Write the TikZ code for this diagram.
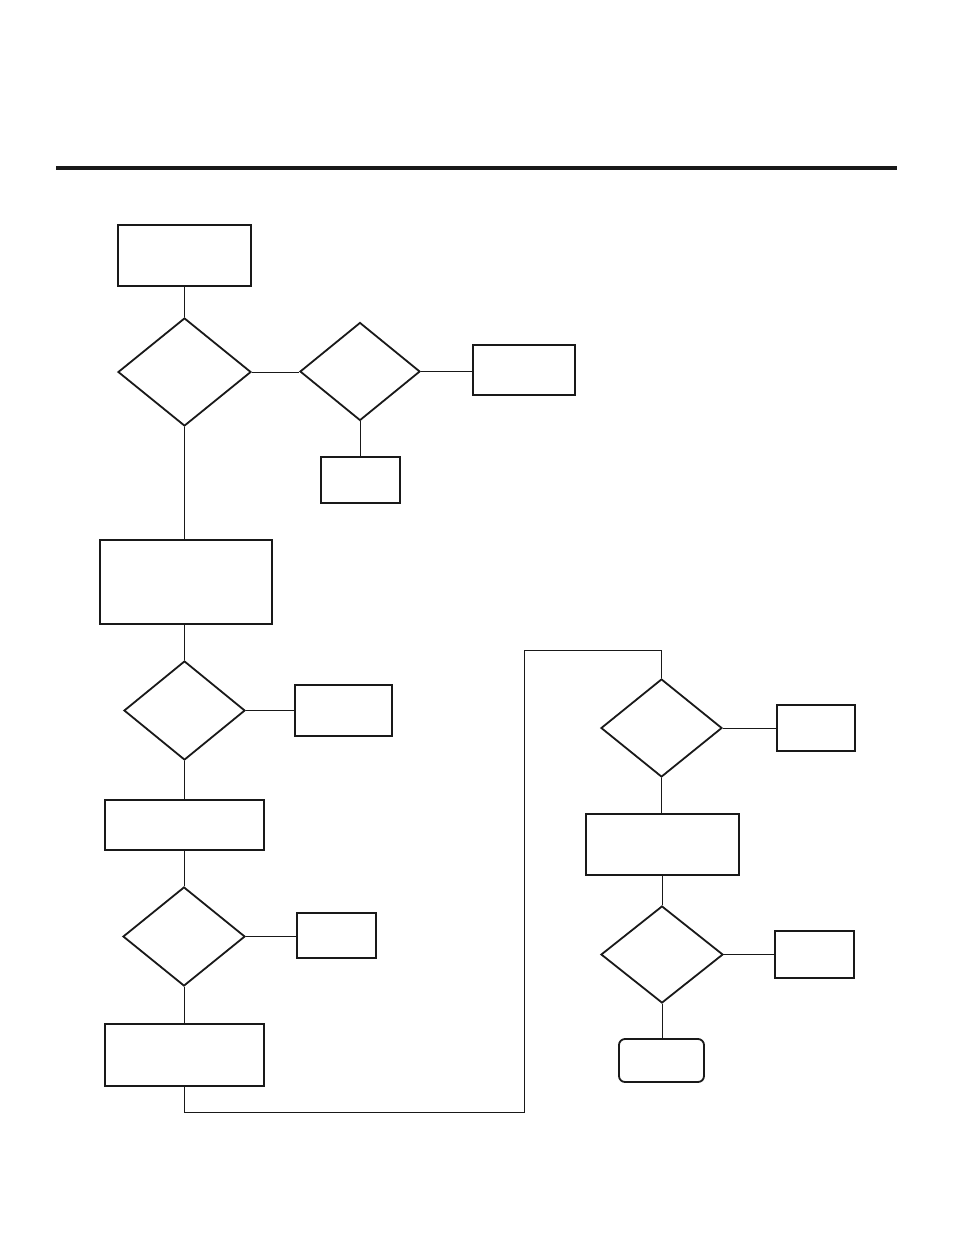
\documentclass[tikz,border=0pt]{standalone}
\usetikzlibrary{shapes.geometric}
\begin{document}
\begin{tikzpicture}[x=1pt,y=-1pt,
  boxnode/.style={draw=black!90,line width=1.8pt,inner sep=0pt,rectangle},
  roundnode/.style={draw=black!90,line width=1.8pt,inner sep=0pt,rectangle,rounded corners=6pt},
  decnode/.style={draw=black!90,line width=1.8pt,inner sep=0pt,diamond},
  conn/.style={draw=black!90,line width=0.9pt}]
\useasboundingbox (0,0) rectangle (954,1235);
\draw[line width=3.2pt,black!90] (56,168) -- (897,168);
% nodes
\node[boxnode,minimum width=133pt,minimum height=61pt] (b1) at (184.5,255.5) {};
\node[decnode,minimum width=133pt,minimum height=108pt] (d1) at (184.5,372) {};
\node[decnode,minimum width=120pt,minimum height=98pt] (d2) at (360,371.5) {};
\node[boxnode,minimum width=102pt,minimum height=50pt] (b2) at (524,370) {};
\node[boxnode,minimum width=79pt,minimum height=46pt] (b3) at (360.5,480) {};
\node[boxnode,minimum width=172pt,minimum height=84pt] (b4) at (186,582) {};
\node[decnode,minimum width=121pt,minimum height=99pt] (d3) at (184.5,710.5) {};
\node[boxnode,minimum width=97pt,minimum height=51pt] (b5) at (343.5,710.5) {};
\node[boxnode,minimum width=159pt,minimum height=50pt] (b6) at (184.5,825) {};
\node[decnode,minimum width=122pt,minimum height=99pt] (d4) at (184,936.5) {};
\node[boxnode,minimum width=79pt,minimum height=45pt] (b7) at (336.5,935.5) {};
\node[boxnode,minimum width=159pt,minimum height=62pt] (b8) at (184.5,1055) {};
\coordinate (c1) at (184.5,1112);
\coordinate (c2) at (524,1112);
\coordinate (c3) at (524,650);
\coordinate (c4) at (661.5,650);
\node[decnode,minimum width=121pt,minimum height=98pt] (d5) at (661.5,728) {};
\node[boxnode,minimum width=78pt,minimum height=46pt] (b9) at (816,728) {};
\node[boxnode,minimum width=153pt,minimum height=61pt] (b10) at (662.5,844.5) {};
\node[decnode,minimum width=122pt,minimum height=97pt] (d6) at (662,954.5) {};
\node[boxnode,minimum width=79pt,minimum height=47pt] (b11) at (814.5,954.5) {};
\node[roundnode,minimum width=85pt,minimum height=43pt] (r1) at (661.5,1060.5) {};
% connectors
\draw[conn] (b1.south) -- (b1.south |- d1.north);
\draw[conn] (d1.east) -- (d1.east -| d2.west);
\draw[conn] (d2.east) -- (d2.east -| b2.west);
\draw[conn] (d2.south) -- (d2.south |- b3.north);
\draw[conn] (d1.south) -- (d1.south |- b4.north);
\draw[conn] (b4.south -| d3.north) -- (d3.north);
\draw[conn] (d3.east) -- (d3.east -| b5.west);
\draw[conn] (d3.south) -- (d3.south |- b6.north);
\draw[conn] (b6.south) -- (b6.south |- d4.north);
\draw[conn] (d4.east) -- (d4.east -| b7.west);
\draw[conn] (d4.south) -- (d4.south |- b8.north);
\draw[conn] (b8.south) -- (c1) -- (c2) -- (c3) -- (c4) -- (d5.north);
\draw[conn] (d5.east) -- (d5.east -| b9.west);
\draw[conn] (d5.south) -- (d5.south |- b10.north);
\draw[conn] (b10.south -| d6.north) -- (d6.north);
\draw[conn] (d6.east) -- (d6.east -| b11.west);
\draw[conn] (d6.south) -- (d6.south |- r1.north);
\end{tikzpicture}
\end{document}
